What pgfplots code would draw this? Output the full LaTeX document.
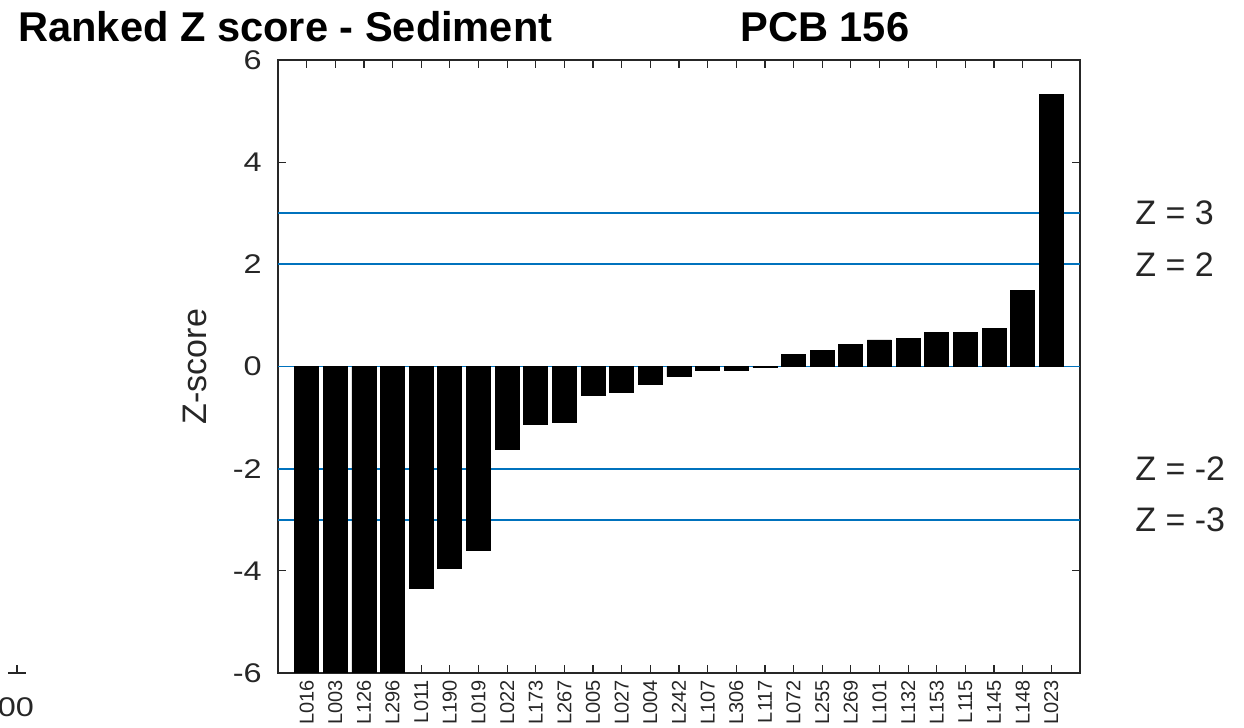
\documentclass[border=0pt]{standalone}
\usepackage{fontspec}
\setmainfont{Liberation Sans}
\usepackage{graphicx}
\usepackage{pgfplots}
\pgfplotsset{compat=1.18}
\definecolor{zblue}{RGB}{0,114,189}
\definecolor{axgray}{RGB}{38,38,38}
\begin{document}
\begin{tikzpicture}
\useasboundingbox (-139pt,-27.5pt) rectangle (483pt,336.5pt);
\begin{axis}[
  at={(0,0)}, anchor=south west, scale only axis,
  width=401pt, height=306.5pt,
  xmin=0, xmax=28, ymin=-6, ymax=6,
  xtick={1,...,27},
  xticklabels={L016,L003,L126,L296,L011,L190,L019,L022,L173,L267,L005,L027,L004,L242,L107,L306,L117,L072,L255,L269,L101,L132,L153,L115,L145,L148,L023},
  xticklabel style={rotate=90, anchor=east, font=\fontsize{10}{10}\selectfont, text=axgray},
  ytick={-6,-4,-2,0,2,4,6},
  yticklabel={\scalebox{1.2}[1]{\pgfmathprintnumber{\tick}}},
  yticklabel style={font=\fontsize{13.5}{13.5}\selectfont, text=axgray, inner sep=1pt, xshift=-7pt},
  /pgf/number format/assume math mode=true,
  tick align=inside, major tick length=4pt,
  tick style={axgray, line width=0.6pt},
  axis line style={axgray, line width=0.7pt},
  xtick pos=both, ytick pos=both,
  clip=true,
]
\addplot[zblue, line width=0.9pt] coordinates {(0,3) (28,3)};
\addplot[zblue, line width=0.9pt] coordinates {(0,2) (28,2)};
\addplot[zblue, line width=0.9pt] coordinates {(0,-2) (28,-2)};
\addplot[zblue, line width=0.9pt] coordinates {(0,-3) (28,-3)};
\addplot[zblue, line width=0.9pt] coordinates {(0,0) (28,0)};
\addplot[ybar, bar width=12pt, fill=black, draw=black, line width=0.4pt] coordinates {
(1,-6.6) (2,-6.6) (3,-6.6) (4,-6.6) (5,-4.35) (6,-3.95) (7,-3.60) (8,-1.62) (9,-1.13) (10,-1.10)
(11,-0.57) (12,-0.51) (13,-0.35) (14,-0.20) (15,-0.08) (16,-0.08) (17,-0.02) (18,0.24) (19,0.32)
(20,0.44) (21,0.52) (22,0.55) (23,0.67) (24,0.67) (25,0.74) (26,1.48) (27,5.32)};
\end{axis}
\node[anchor=base west, font=\fontsize{20.8}{20.8}\selectfont\bfseries, inner sep=0pt] at (-130pt,315.5pt) {Ranked Z score - Sediment};
\node[anchor=base west, font=\fontsize{20.8}{20.8}\selectfont\bfseries, inner sep=0pt] at (231pt,315.5pt) {PCB 156};
\node[rotate=90, font=\fontsize{17}{17}\selectfont, text=axgray] at (-41.5pt,153.25pt) {Z-score};
\begin{scope}[font=\fontsize{17}{17}\selectfont, text=axgray]
\node[anchor=west, inner sep=0pt] at (428.5pt,230pt) {Z = 3};
\node[anchor=west, inner sep=0pt] at (428.5pt,204.4pt) {Z = 2};
\node[anchor=west, inner sep=0pt] at (428.5pt,102.1pt) {Z = -2};
\node[anchor=west, inner sep=0pt] at (428.5pt,76.6pt) {Z = -3};
\end{scope}
\draw[axgray, line width=0.6pt] (-135pt,0pt) -- (-126pt,0pt);
\draw[axgray, line width=0.6pt] (-130.5pt,0pt) -- (-130.5pt,4pt);
\node[font=\fontsize{13.5}{13.5}\selectfont, text=axgray, inner sep=0pt] at (-131pt,-17pt) {\scalebox{1.2}[1]{00}};
\end{tikzpicture}
\end{document}
